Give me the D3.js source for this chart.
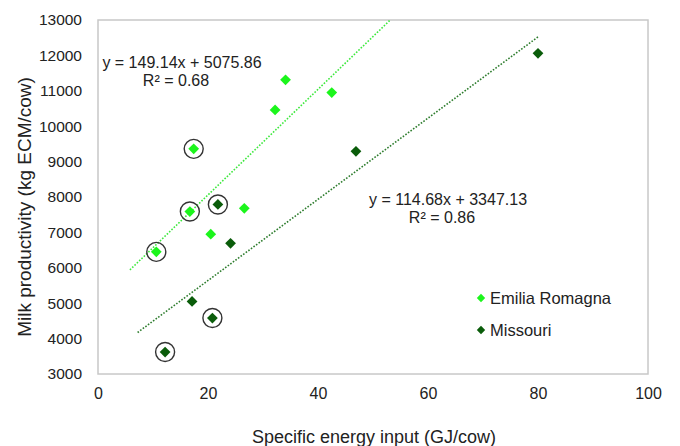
<!DOCTYPE html>
<html>
<head>
<meta charset="utf-8">
<script src="https://cdn.jsdelivr.net/npm/d3@7"></script>
<style>
  body { margin: 0; background: #fff; }
  text { font-family: "Liberation Sans", Arial, sans-serif; fill: #222; }
</style>
</head>
<body>
<div id="chart"></div>
<script>
// Emilia Romagna farms
var erX = [10.6, 16.7, 17.4, 20.5, 26.6, 32.2, 34.1, 42.5];
var erY = [6450, 7590, 9360, 6950, 7680, 10460, 11310, 10950];
var erCircled = [true, true, true, false, false, false, false, false];

// Missouri farms
var moX = [12.2, 17.1, 20.8, 21.8, 24.1, 46.9, 80.0];
var moY = [3620, 5050, 4580, 7790, 6690, 9290, 12060];
var moCircled = [true, false, true, true, false, false, false];

// trend lines (slope, intercept, x start, x end)
var erTrend = [149.14, 5075.86, 5.8, 53.1];
var moTrend = [114.68, 3347.13, 7.2, 80.2];

var xTicks = [0, 20, 40, 60, 80, 100];
var yTicks = [3000, 4000, 5000, 6000, 7000, 8000, 9000, 10000, 11000, 12000, 13000];

var width = 680, height = 446;
var margin = { top: 20, right: 32, bottom: 72, left: 98 };

var svg = d3.select("#chart").append("svg")
  .attr("width", width)
  .attr("height", height);

var x = d3.scaleLinear().domain([0, 100]).range([margin.left, width - margin.right]);
var y = d3.scaleLinear().domain([3000, 13000]).range([height - margin.bottom, margin.top]);

var lightGreen = "#1cf51c";
var darkGreen = "#0a5c0a";

// plot frame
svg.append("rect")
  .attr("x", margin.left)
  .attr("y", margin.top)
  .attr("width", width - margin.left - margin.right)
  .attr("height", height - margin.top - margin.bottom)
  .attr("fill", "none")
  .attr("stroke", "#c8c8c8")
  .attr("stroke-width", 1.5);

// axes (labels only, no tick marks)
var xAxis = svg.append("g")
  .attr("transform", "translate(0," + (height - margin.bottom) + ")")
  .call(d3.axisBottom(x).tickValues(xTicks).tickFormat(d3.format("d")).tickSize(0).tickPadding(14));
xAxis.select(".domain").remove();
xAxis.selectAll("text").style("font-size", "16px").attr("fill", "#222");

var yAxis = svg.append("g")
  .attr("transform", "translate(" + margin.left + ",0)")
  .call(d3.axisLeft(y).tickValues(yTicks).tickFormat(d3.format("d")).tickSize(0).tickPadding(16));
yAxis.select(".domain").remove();
yAxis.selectAll("text").style("font-size", "15.5px").attr("fill", "#222");

// axis titles
svg.append("text")
  .attr("x", (margin.left + width - margin.right) / 2 + 1)
  .attr("y", 443)
  .attr("text-anchor", "middle")
  .style("font-size", "18px")
  .text("Specific energy input (GJ/cow)");

svg.append("text")
  .attr("transform", "translate(31," + ((margin.top + height - margin.bottom) / 2 + 10) + ") rotate(-90)")
  .attr("text-anchor", "middle")
  .style("font-size", "19px")
  .text("Milk productivity (kg ECM/cow)");

// trend lines
function trendLine(t, color) {
  svg.append("line")
    .attr("x1", x(t[2])).attr("y1", y(t[0] * t[2] + t[1]))
    .attr("x2", x(t[3])).attr("y2", y(t[0] * t[3] + t[1]))
    .attr("stroke", color)
    .attr("stroke-width", 1.6)
    .attr("stroke-dasharray", "1.6,1.6");
}
trendLine(erTrend, "#3de83d");
trendLine(moTrend, "#2e7d2e");

// points
var diamond = d3.symbol().type(d3.symbolDiamond2).size(74);
function drawSeries(xs, ys, circled, color) {
  var data = xs.map(function (d, i) { return { x: d, y: ys[i], c: circled[i] }; });
  svg.append("g").selectAll("path")
    .data(data)
    .enter().append("path")
    .attr("d", diamond)
    .attr("transform", function (d) { return "translate(" + x(d.x) + "," + y(d.y) + ")"; })
    .attr("fill", color);
  svg.append("g").selectAll("circle")
    .data(data.filter(function (d) { return d.c; }))
    .enter().append("circle")
    .attr("cx", function (d) { return x(d.x); })
    .attr("cy", function (d) { return y(d.y); })
    .attr("r", 9.5)
    .attr("fill", "none")
    .attr("stroke", "#333")
    .attr("stroke-width", 1.4);
}
drawSeries(erX, erY, erCircled, lightGreen);
drawSeries(moX, moY, moCircled, darkGreen);

// equations
function equation(cx, cy, l1, l2, dx2) {
  svg.append("text").attr("x", cx).attr("y", cy)
    .attr("text-anchor", "middle").style("font-size", "16px").text(l1);
  svg.append("text").attr("x", cx + dx2).attr("y", cy + 18)
    .attr("text-anchor", "middle").style("font-size", "16px").text(l2);
}
equation(182, 68, "y = 149.14x + 5075.86", "R² = 0.68", -6);
equation(448, 205, "y = 114.68x + 3347.13", "R² = 0.86", -6);

// legend
var legend = [["Emilia Romagna", lightGreen, 298], ["Missouri", darkGreen, 330]];
var legendSym = d3.symbol().type(d3.symbolDiamond2).size(45);
legend.forEach(function (l) {
  svg.append("path").attr("d", legendSym)
    .attr("transform", "translate(481," + l[2] + ")")
    .attr("fill", l[1]);
  svg.append("text").attr("x", 490).attr("y", l[2] + 6)
    .style("font-size", "16.5px").text(l[0]);
});
</script>
</body>
</html>
